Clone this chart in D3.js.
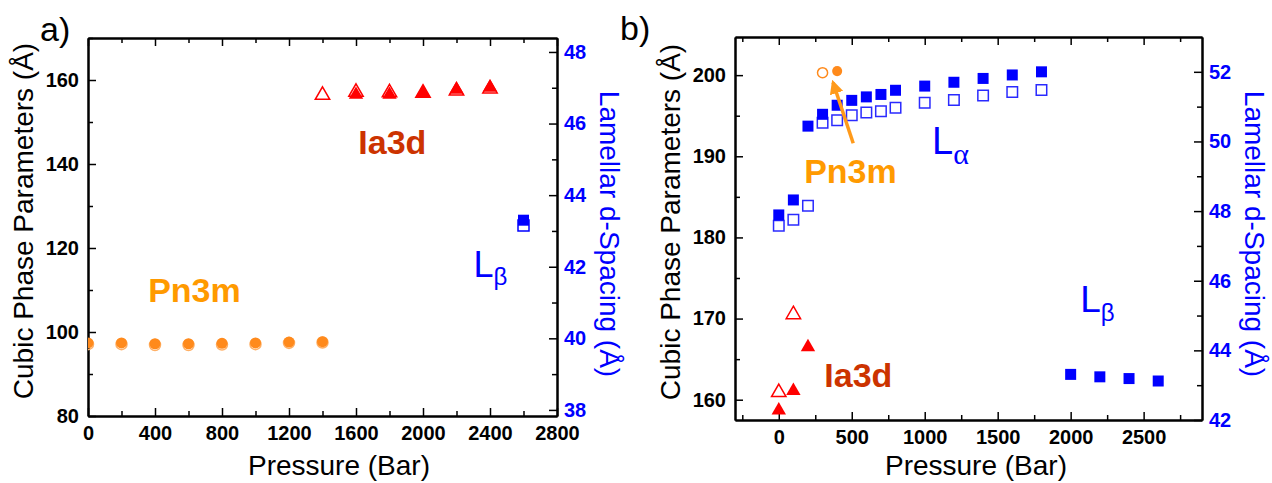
<!DOCTYPE html>
<html>
<head>
<meta charset="utf-8">
<script src="https://cdn.jsdelivr.net/npm/d3@7/dist/d3.min.js"></script>
<style>
  body { margin: 0; background: #fff; }
  text { font-family: "Liberation Sans", Arial, sans-serif; }
</style>
</head>
<body>
<script>
// ---- data: panel a ----
const aCubicPressure = [0, 200, 400, 600, 800, 1000, 1200, 1400];
const aPn3mFilled = [97.4, 97.4, 97.2, 97.2, 97.3, 97.4, 97.6, 97.7];
const aPn3mOpen = [97.1, 97.1, 96.9, 96.9, 97.0, 97.1, 97.4, 97.5];
const aIa3dFilledPressure = [1600, 1800, 2000, 2200, 2400];
const aIa3dFilled = [156.5, 156.5, 156.9, 157.7, 158.2];
const aIa3dOpenPressure = [1400, 1600, 1800, 2000, 2200, 2400];
const aIa3dOpen = [156.4, 157.1, 157.0, 156.9, 157.4, 157.9];
const aLbPressure = [2600];
const aLbFilled = [43.3];
const aLbOpen = [43.15];

// ---- data: panel b ----
const bLaPressure = [0, 100, 200, 300, 400, 500, 600, 700, 800, 1000, 1200, 1400, 1600, 1800];
const bLaFilled = [47.89, 48.32, 50.44, 50.78, 51.04, 51.18, 51.28, 51.35, 51.47, 51.59, 51.70, 51.81, 51.91, 52.0];
const bLaOpen = [47.58, 47.75, 48.15, 50.54, 50.61, 50.75, 50.83, 50.87, 50.97, 51.11, 51.19, 51.32, 51.42, 51.48];
const bPn3mOpenPressure = [300];
const bPn3mOpen = [200.3];
const bPn3mFilledPressure = [400];
const bPn3mFilled = [200.5];
const bIa3dFilledPressure = [0, 100, 200];
const bIa3dFilled = [158.7, 161.1, 166.5];
const bIa3dOpenPressure = [0, 100];
const bIa3dOpen = [160.9, 170.5];
const bLbPressure = [2000, 2200, 2400, 2600];
const bLbFilled = [43.31, 43.24, 43.19, 43.12];

// ---- tick values ----
const aXMajor = [0, 400, 800, 1200, 1600, 2000, 2400, 2800];
const aXMinor = [200, 600, 1000, 1400, 1800, 2200, 2600];
const aYLMajor = [80, 100, 120, 140, 160];
const aYLMinor = [90, 110, 130, 150, 170];
const aYRMajor = [38, 40, 42, 44, 46, 48];
const aYRMinor = [39, 41, 43, 45, 47];
const bXMajor = [0, 500, 1000, 1500, 2000, 2500];
const bXMinor = [-250, 250, 750, 1250, 1750, 2250, 2750];
const bYLMajor = [160, 170, 180, 190, 200];
const bYLMinor = [165, 175, 185, 195];
const bYRMajor = [42, 44, 46, 48, 50, 52];
const bYRMinor = [43, 45, 47, 49, 51];

const ORANGE = '#ff8a1c';
const ORANGE_TXT = '#ff9a00';
const RED = '#ff0000';
const RUST = '#cc3300';
const BLUE = '#0000ff';

const svg = d3.select('body').append('svg')
    .attr('width', 1272)
    .attr('height', 483);
svg.append('rect').attr('width', 1272).attr('height', 483).attr('fill', '#fff');

function styleAxis(g, size) {
    g.select('.domain').attr('stroke', '#000').attr('stroke-width', 2);
    g.selectAll('.tick line').attr('stroke', '#000').attr('stroke-width', 1.5);
    g.selectAll('.tick text')
        .attr('font-family', '"Liberation Sans", Arial, sans-serif')
        .attr('font-weight', 'bold')
        .attr('font-size', size);
}

function drawPanel(p) {
    const x = d3.scaleLinear().domain(p.xDomain).range([p.left, p.right]);
    const yL = d3.scaleLinear().domain(p.yLDomain).range([p.bottom, p.top]);
    const yR = d3.scaleLinear().domain(p.yRDomain).range([p.bottom, p.top]);
    const g = svg.append('g');

    // clip for markers
    svg.append('clipPath').attr('id', p.id + '-clip')
        .append('rect')
        .attr('x', p.left).attr('y', p.top)
        .attr('width', p.right - p.left).attr('height', p.bottom - p.top);

    // minor ticks
    g.append('g').attr('transform', `translate(0,${p.bottom})`)
        .call(d3.axisBottom(x).tickValues(p.xMinor).tickSize(-5).tickSizeOuter(0).tickFormat(''))
        .call(a => styleAxis(a, 20));
    g.append('g').attr('transform', `translate(0,${p.top})`)
        .call(d3.axisTop(x).tickValues(p.xMinor).tickSize(-5).tickSizeOuter(0).tickFormat(''))
        .call(a => styleAxis(a, 20));
    g.append('g').attr('transform', `translate(${p.left},0)`)
        .call(d3.axisLeft(yL).tickValues(p.yLMinor).tickSize(-5).tickSizeOuter(0).tickFormat(''))
        .call(a => styleAxis(a, 20));
    g.append('g').attr('transform', `translate(${p.right},0)`)
        .call(d3.axisRight(yR).tickValues(p.yRMinor).tickSize(-5).tickSizeOuter(0).tickFormat(''))
        .call(a => styleAxis(a, 20));

    // major ticks + labels
    g.append('g').attr('transform', `translate(0,${p.bottom})`)
        .call(d3.axisBottom(x).tickValues(p.xMajor).tickSize(-8).tickSizeOuter(0).tickPadding(10).tickFormat(d3.format('d')))
        .call(a => styleAxis(a, 20));
    g.append('g').attr('transform', `translate(0,${p.top})`)
        .call(d3.axisTop(x).tickValues(p.xMajor).tickSize(-8).tickSizeOuter(0).tickFormat(''))
        .call(a => styleAxis(a, 20));
    g.append('g').attr('transform', `translate(${p.left},0)`)
        .call(d3.axisLeft(yL).tickValues(p.yLMajor).tickSize(-8).tickSizeOuter(0).tickPadding(9))
        .call(a => styleAxis(a, 20));
    g.append('g').attr('transform', `translate(${p.right},0)`)
        .call(d3.axisRight(yR).tickValues(p.yRMajor).tickSize(-8).tickSizeOuter(0).tickPadding(7))
        .call(a => styleAxis(a, 20))
        .call(a => a.selectAll('.tick text').attr('fill', BLUE));

    // axis titles
    svg.append('text')
        .attr('transform', `translate(${p.yLTitleX},${p.yLTitleY}) rotate(-90)`)
        .attr('text-anchor', 'middle').attr('font-size', 28)
        .text('Cubic Phase Parameters (Å)');
    svg.append('text')
        .attr('transform', `translate(${p.yRTitleX},${p.yRTitleY}) rotate(90)`)
        .attr('text-anchor', 'middle').attr('font-size', 28).attr('fill', BLUE)
        .text('Lamellar d-Spacing (Å)');
    svg.append('text')
        .attr('x', p.xTitleX).attr('y', p.xTitleY)
        .attr('text-anchor', 'middle').attr('font-size', 28)
        .text('Pressure (Bar)');
    svg.append('text')
        .attr('x', p.tagX).attr('y', p.tagY)
        .attr('font-size', 34)
        .text(p.tag);

    const marks = svg.append('g').attr('clip-path', `url(#${p.id}-clip)`);
    p.series.forEach(s => {
        const sc = s.axis === 'right' ? yR : yL;
        const sym = d3.symbol().type(s.type).size(s.size);
        marks.append('g').selectAll('path')
            .data(s.px.map((v, i) => [v, s.py[i]]))
            .join('path')
            .attr('transform', d => `translate(${x(d[0])},${sc(d[1])})`)
            .attr('d', sym)
            .attr('fill', s.filled ? s.color : 'none')
            .attr('stroke', s.filled ? 'none' : s.color)
            .attr('stroke-width', s.filled ? 0 : 1.5);
    });

    // annotations
    p.notes.forEach(n => {
        const t = svg.append('text')
            .attr('x', x(n.px)).attr('y', yL(n.py))
            .attr('font-size', n.size)
            .attr('font-weight', n.bold ? 'bold' : 'normal')
            .attr('fill', n.color);
        t.append('tspan').text(n.text);
        if (n.sub) {
            t.append('tspan')
                .attr('dy', n.subDy)
                .attr('font-size', n.subSize)
                .attr('font-family', n.subFont)
                .text(n.sub);
        }
    });

    if (p.arrow) {
        const a = p.arrow;
        svg.append('defs').append('marker')
            .attr('id', p.id + '-arrow')
            .attr('viewBox', '0 -5 10 10')
            .attr('refX', 8).attr('refY', 0)
            .attr('markerWidth', 4).attr('markerHeight', 4)
            .attr('markerUnits', 'strokeWidth')
            .attr('orient', 'auto')
            .append('path')
            .attr('d', 'M0,-5L10,0L0,5')
            .attr('fill', a.color);
        svg.append('line')
            .attr('x1', x(a.from[0])).attr('y1', yL(a.from[1]))
            .attr('x2', x(a.to[0])).attr('y2', yL(a.to[1]))
            .attr('stroke', a.color).attr('stroke-width', 3.5)
            .attr('marker-end', `url(#${p.id}-arrow)`);
    }
}

const TRI = d3.symbolTriangle, SQ = d3.symbolSquare, CIR = d3.symbolCircle;

drawPanel({
    id: 'pa', left: 88, right: 557, top: 38, bottom: 416,
    xDomain: [0, 2800], yLDomain: [80, 170], yRDomain: [37.83, 48.39],
    xMajor: aXMajor, xMinor: aXMinor, yLMajor: aYLMajor, yLMinor: aYLMinor,
    yRMajor: aYRMajor, yRMinor: aYRMinor,
    yLTitleX: 33, yLTitleY: 221, yRTitleX: 600, yRTitleY: 234,
    xTitleX: 339, xTitleY: 475, tag: 'a)', tagX: 40, tagY: 41,
    series: [
        { px: aCubicPressure, py: aPn3mOpen, type: CIR, size: 95, color: '#ffb066', filled: false },
        { px: aCubicPressure, py: aPn3mFilled, type: CIR, size: 95, color: ORANGE, filled: true },
        { px: aIa3dOpenPressure, py: aIa3dOpen, type: TRI, size: 90, color: RED, filled: false },
        { px: aIa3dFilledPressure, py: aIa3dFilled, type: TRI, size: 90, color: RED, filled: true },
        { px: aLbPressure, py: aLbOpen, type: SQ, size: 121, color: BLUE, filled: false, axis: 'right' },
        { px: aLbPressure, py: aLbFilled, type: SQ, size: 121, color: BLUE, filled: true, axis: 'right' }
    ],
    notes: [
        { text: 'Ia3d', px: 1614, py: 142.5, size: 34, bold: true, color: RUST },
        { text: 'Pn3m', px: 359, py: 107.1, size: 34, bold: true, color: ORANGE_TXT },
        { text: 'L', sub: 'β', px: 2302, py: 113.1, size: 36, color: BLUE,
          subSize: 24, subDy: 8, subFont: '"Liberation Sans", Arial, sans-serif' }
    ]
});

drawPanel({
    id: 'pb', left: 735, right: 1202, top: 37, bottom: 420,
    xDomain: [-300, 2900], yLDomain: [157.5, 204.7], yRDomain: [42, 53],
    xMajor: bXMajor, xMinor: bXMinor, yLMajor: bYLMajor, yLMinor: bYLMinor,
    yRMajor: bYRMajor, yRMinor: bYRMinor,
    yLTitleX: 680, yLTitleY: 222, yRTitleX: 1245, yRTitleY: 234,
    xTitleX: 976, xTitleY: 475, tag: 'b)', tagX: 620, tagY: 40,
    series: [
        { px: bLaPressure, py: bLaOpen, type: SQ, size: 110, color: '#2a2aff', filled: false, axis: 'right' },
        { px: bLaPressure, py: bLaFilled, type: SQ, size: 121, color: BLUE, filled: true, axis: 'right' },
        { px: bLbPressure, py: bLbFilled, type: SQ, size: 121, color: BLUE, filled: true, axis: 'right' },
        { px: bPn3mOpenPressure, py: bPn3mOpen, type: CIR, size: 80, color: ORANGE, filled: false },
        { px: bPn3mFilledPressure, py: bPn3mFilled, type: CIR, size: 80, color: ORANGE, filled: true },
        { px: bIa3dOpenPressure, py: bIa3dOpen, type: TRI, size: 90, color: RED, filled: false },
        { px: bIa3dFilledPressure, py: bIa3dFilled, type: TRI, size: 90, color: RED, filled: true }
    ],
    notes: [
        { text: 'Pn3m', px: 174, py: 186.66, size: 34, bold: true, color: ORANGE_TXT },
        { text: 'Ia3d', px: 312, py: 161.6, size: 34, bold: true, color: RUST },
        { text: 'L', sub: 'α', px: 1050, py: 190.33, size: 38, color: BLUE,
          subSize: 30, subDy: 10, subFont: '"Liberation Serif", "Times New Roman", serif' },
        { text: 'L', sub: 'β', px: 2066, py: 170.85, size: 37, color: BLUE,
          subSize: 24, subDy: 9, subFont: '"Liberation Sans", Arial, sans-serif' }
    ],
    arrow: { from: [510, 191.6], to: [372, 199.1], color: '#ff9a1a' }
});
</script>
</body>
</html>
